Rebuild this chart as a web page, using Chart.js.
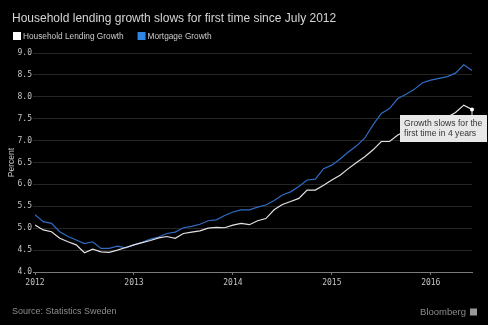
<!DOCTYPE html>
<html>
<head>
<meta charset="utf-8">
<script src="https://cdn.jsdelivr.net/npm/chart.js@4/dist/chart.umd.min.js"></script>
<style>
  html, body { margin: 0; padding: 0; background: #000; }
  #wrap { position: relative; width: 488px; height: 325px; }
  canvas { display: block; }
</style>
</head>
<body>
<div id="wrap"><canvas id="c" width="488" height="325"></canvas></div>
<script>
// Monthly observations, January 2012 to June 2016
const months = [
  '2012-01','2012-02','2012-03','2012-04','2012-05','2012-06','2012-07','2012-08','2012-09','2012-10','2012-11','2012-12',
  '2013-01','2013-02','2013-03','2013-04','2013-05','2013-06','2013-07','2013-08','2013-09','2013-10','2013-11','2013-12',
  '2014-01','2014-02','2014-03','2014-04','2014-05','2014-06','2014-07','2014-08','2014-09','2014-10','2014-11','2014-12',
  '2015-01','2015-02','2015-03','2015-04','2015-05','2015-06','2015-07','2015-08','2015-09','2015-10','2015-11','2015-12',
  '2016-01','2016-02','2016-03','2016-04','2016-05','2016-06'
];

// Household lending growth, percent
const householdLending = [
  5.07, 4.96, 4.92, 4.77, 4.69, 4.62, 4.44, 4.52, 4.46, 4.45, 4.50, 4.56,
  4.62, 4.67, 4.72, 4.78, 4.81, 4.77, 4.88, 4.91, 4.94, 5.00, 5.02, 5.01,
  5.07, 5.11, 5.08, 5.17, 5.22, 5.42, 5.54, 5.61, 5.68, 5.87, 5.87, 5.98,
  6.10, 6.21, 6.36, 6.50, 6.63, 6.79, 6.98, 6.98, 7.13, 7.22, 7.30, 7.38,
  7.44, 7.48, 7.53, 7.64, 7.81, 7.71
];

// Mortgage growth, percent
const mortgageGrowth = [
  5.31, 5.15, 5.11, 4.92, 4.81, 4.73, 4.65, 4.69, 4.54, 4.54, 4.59, 4.55,
  4.62, 4.68, 4.75, 4.80, 4.88, 4.91, 5.01, 5.04, 5.09, 5.17, 5.19, 5.29,
  5.37, 5.42, 5.42, 5.48, 5.53, 5.63, 5.76, 5.83, 5.95, 6.10, 6.12, 6.36,
  6.44, 6.58, 6.74, 6.88, 7.06, 7.36, 7.62, 7.73, 7.96, 8.06, 8.17, 8.32,
  8.38, 8.42, 8.46, 8.54, 8.73, 8.60
];

const seriesLabels = ['Household Lending Growth', 'Mortgage Growth'];
const seriesColors = ['#e2e2e2', '#2f6cc4'];
const legendColors = ['#ffffff', '#2f86e6'];

const titleText = 'Household lending growth slows for first time since July 2012';
const sourceText = 'Source: Statistics Sweden';
const brandText = 'Bloomberg';
const noteLines = ['Growth slows for the', 'first time in 4 years'];

const yMin = 4.0, yMax = 9.0, yStep = 0.5;

const toPoints = arr => arr.map((v, i) => ({ x: i, y: v }));
const yearStarts = months.map((m, i) => (m.endsWith('-01') ? i : -1)).filter(i => i >= 0);

const sansFont = '"Liberation Sans", Arial, sans-serif';
const monoFont = '"DejaVu Sans Mono", monospace';

// Title, legend, footer and the call-out on the latest household reading
const frame = {
  id: 'frame',
  beforeDraw(chart) {
    const ctx = chart.ctx;
    ctx.save();
    ctx.fillStyle = '#000';
    ctx.fillRect(0, 0, chart.width, chart.height);
    ctx.restore();
  },
  afterDraw(chart) {
    const ctx = chart.ctx;
    ctx.save();

    ctx.fillStyle = '#d6d6d6';
    ctx.font = '12px ' + sansFont;
    ctx.textBaseline = 'alphabetic';
    ctx.fillText(titleText, 12, 22);

    let lx = 13;
    ctx.font = '8.3px ' + sansFont;
    ctx.textBaseline = 'middle';
    chart.data.datasets.forEach((ds, i) => {
      ctx.fillStyle = legendColors[i];
      ctx.fillRect(lx, 32, 8, 8);
      ctx.fillStyle = '#cccccc';
      ctx.fillText(ds.label, lx + 10, 36.5);
      lx += 10 + ctx.measureText(ds.label).width + 14;
    });

    ctx.fillStyle = '#8c8c8c';
    ctx.font = '9px ' + sansFont;
    ctx.fillText(sourceText, 12, 312);
    ctx.textAlign = 'right';
    ctx.font = '9.5px ' + sansFont;
    ctx.fillText(brandText, 466, 312);
    ctx.fillStyle = '#9a9a9a';
    ctx.fillRect(470, 308.5, 7, 7);

    // call-out anchored to the last household point
    const meta = chart.getDatasetMeta(0);
    const last = meta.data[meta.data.length - 1];
    const px = last.x, py = last.y;
    const bx = px - 72, by = py + 5.5, bw = 87, bh = 27;
    ctx.fillStyle = '#e8e8e8';
    ctx.fillRect(bx, by, bw, bh);
    ctx.strokeStyle = '#e8e8e8';
    ctx.lineWidth = 1;
    ctx.beginPath();
    ctx.moveTo(px, py);
    ctx.lineTo(px, by);
    ctx.stroke();
    ctx.fillStyle = '#ffffff';
    ctx.beginPath();
    ctx.arc(px, py, 2, 0, Math.PI * 2);
    ctx.fill();
    ctx.fillStyle = '#333333';
    ctx.textAlign = 'left';
    ctx.font = '8.6px ' + sansFont;
    noteLines.forEach((t, i) => ctx.fillText(t, bx + 4, by + 9 + i * 9.5));

    ctx.restore();
  }
};

new Chart(document.getElementById('c'), {
  type: 'line',
  data: {
    datasets: [
      {
        label: seriesLabels[0],
        data: toPoints(householdLending),
        borderColor: seriesColors[0],
        borderWidth: 1.2,
        pointRadius: 0,
        tension: 0
      },
      {
        label: seriesLabels[1],
        data: toPoints(mortgageGrowth),
        borderColor: seriesColors[1],
        borderWidth: 1.2,
        pointRadius: 0,
        tension: 0
      }
    ]
  },
  options: {
    responsive: false,
    animation: false,
    events: [],
    layout: { padding: { top: 53, right: 16, left: 0, bottom: 0 } },
    plugins: {
      legend: { display: false },
      title: { display: false },
      tooltip: { enabled: false }
    },
    scales: {
      x: {
        type: 'linear',
        min: 0,
        max: months.length - 1,
        afterFit: s => { s.height = 53; },
        afterBuildTicks: s => { s.ticks = yearStarts.map(v => ({ value: v })); },
        ticks: {
          autoSkip: false,
          maxRotation: 0,
          padding: 3,
          color: '#c4c4c4',
          font: { family: monoFont, size: 8 },
          callback: v => months[v] ? months[v].slice(0, 4) : ''
        },
        grid: {
          drawOnChartArea: false,
          drawTicks: true,
          tickLength: 3,
          color: '#777'
        },
        border: { display: true, color: '#7a7a7a', width: 1 }
      },
      y: {
        min: yMin,
        max: yMax,
        afterFit: s => { s.width = 35; },
        afterBuildTicks: s => {
          const t = [];
          for (let v = yMin; v <= yMax + 1e-9; v += yStep) t.push({ value: +v.toFixed(1) });
          s.ticks = t;
        },
        title: {
          display: true,
          text: 'Percent',
          color: '#c4c4c4',
          font: { family: sansFont, size: 8.5 },
          padding: { top: 7, bottom: 0 }
        },
        ticks: {
          padding: 1,
          color: '#c4c4c4',
          font: { family: monoFont, size: 8 },
          callback: v => Number(v).toFixed(1)
        },
        grid: {
          drawTicks: true,
          tickLength: 2,
          color: ctx => (ctx.tick && ctx.tick.value === yMin ? '#7a7a7a' : '#262626'),
          lineWidth: 1
        },
        border: { display: false }
      }
    }
  },
  plugins: [frame]
});
</script>
</body>
</html>
